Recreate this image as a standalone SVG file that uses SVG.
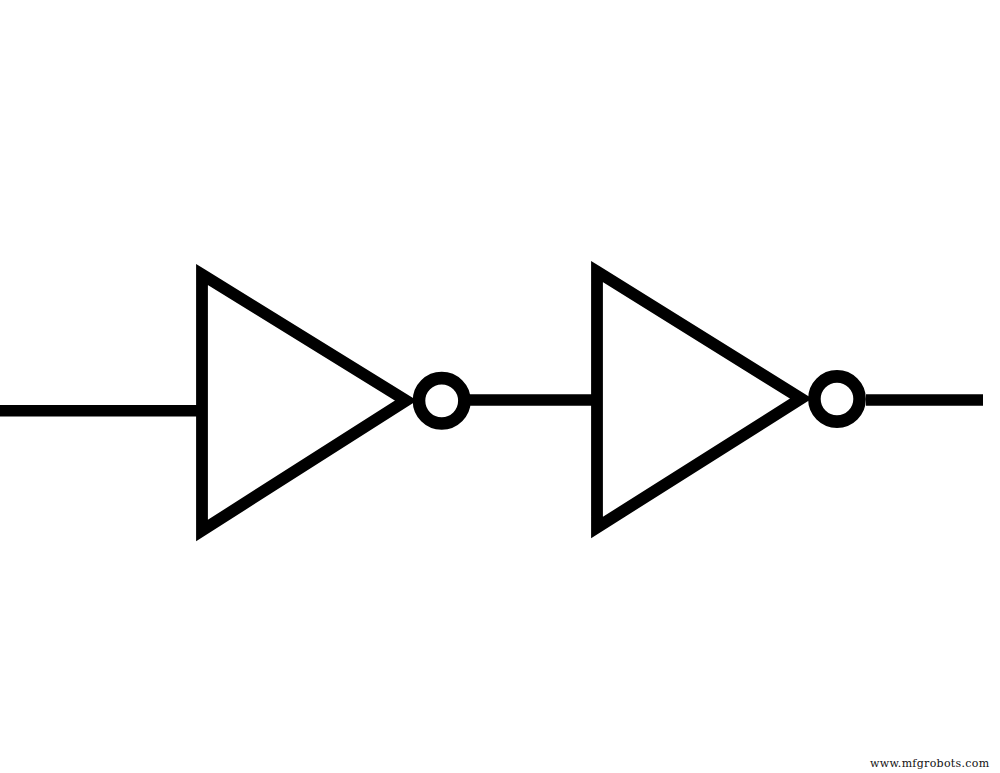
<svg xmlns="http://www.w3.org/2000/svg" width="1000" height="773" viewBox="0 0 1000 773">
<style>
.s{fill:#fff;stroke:#000;stroke-width:11.8;stroke-miterlimit:6}
.b{fill:#fff;stroke:#000;stroke-width:12.6}
.w{fill:none;stroke:#000;stroke-width:11.5}
.t{font-family:"DejaVu Serif",serif;font-size:11px;letter-spacing:.3px;fill:#111}
</style>
<rect width="1000" height="773" fill="#fff"/>
<g id="connectors">
<line class="w" x1="0" y1="410.7" x2="200" y2="410.7"/>
<line class="w" x1="468" y1="400" x2="596" y2="400"/>
<line class="w" x1="866" y1="400" x2="983" y2="400"/>
</g>
<g id="inverter-1">
<polygon class="s" points="202,274.5 406,400.5 202,530.5"/>
<circle class="b" cx="441.7" cy="400.8" r="22.7"/>
</g>
<g id="inverter-2">
<polygon class="s" points="597,271.5 801,398.5 597,527.5"/>
<circle class="b" cx="837" cy="399" r="22.6"/>
</g>
<text id="watermark" class="t" x="870" y="767">www.mfgrobots.com</text>
</svg>
